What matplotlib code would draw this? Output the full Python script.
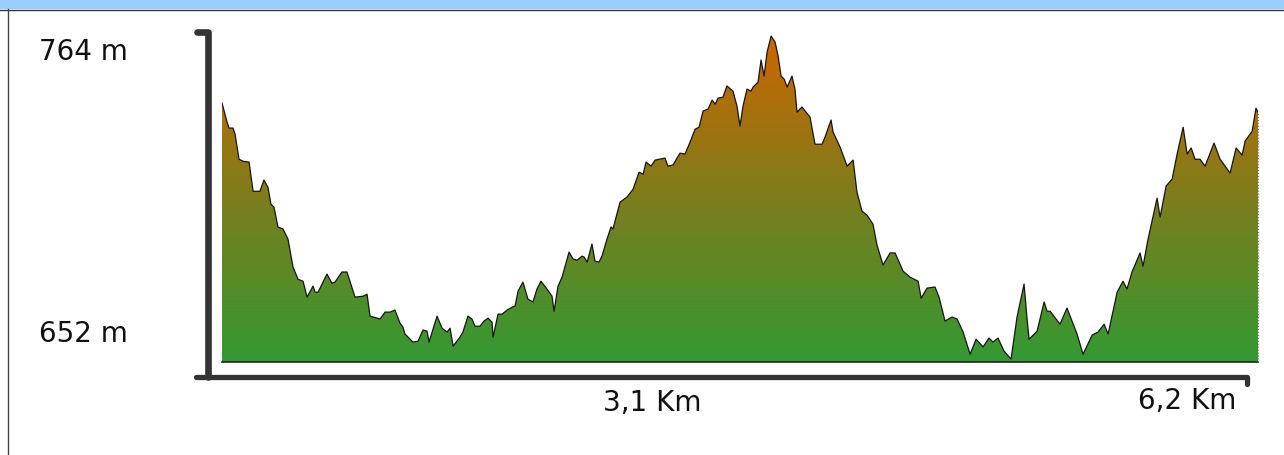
import matplotlib
matplotlib.use('Agg')
import matplotlib.pyplot as plt
import numpy as np
from matplotlib.colors import LinearSegmentedColormap
from matplotlib.lines import Line2D
from matplotlib.patches import Rectangle

# elevation profile, distance in km and altitude in m
dist_km = [0.000, 0.030, 0.042, 0.066, 0.078, 0.102, 0.126, 0.162, 0.186, 0.227,
           0.251, 0.275, 0.293, 0.311, 0.335, 0.365, 0.395, 0.425, 0.455, 0.485,
           0.509, 0.545, 0.557, 0.575, 0.628, 0.658, 0.676, 0.718, 0.748, 0.796,
           0.844, 0.868, 0.886, 0.946, 0.976, 1.005, 1.035, 1.065, 1.083, 1.095,
           1.107, 1.143, 1.173, 1.203, 1.227, 1.239, 1.287, 1.317, 1.347, 1.365,
           1.383, 1.424, 1.442, 1.472, 1.496, 1.514, 1.544, 1.568, 1.592, 1.616,
           1.622, 1.652, 1.676, 1.706, 1.736, 1.754, 1.772, 1.801, 1.831, 1.861,
           1.885, 1.909, 1.945, 1.975, 1.987, 2.011, 2.035, 2.077, 2.101, 2.125,
           2.155, 2.167, 2.185, 2.214, 2.232, 2.256, 2.274, 2.304, 2.328, 2.340,
           2.382, 2.424, 2.460, 2.496, 2.520, 2.538, 2.568, 2.592, 2.651, 2.669,
           2.699, 2.741, 2.771, 2.801, 2.831, 2.855, 2.879, 2.909, 2.933, 2.951,
           2.969, 2.998, 3.022, 3.058, 3.082, 3.100, 3.118, 3.142, 3.166, 3.178,
           3.208, 3.226, 3.244, 3.262, 3.286, 3.310, 3.328, 3.346, 3.364, 3.382,
           3.411, 3.429, 3.441, 3.471, 3.519, 3.549, 3.591, 3.609, 3.645, 3.657,
           3.699, 3.741, 3.777, 3.800, 3.830, 3.860, 3.896, 3.920, 3.956, 3.998,
           4.028, 4.076, 4.118, 4.166, 4.184, 4.219, 4.267, 4.291, 4.327, 4.369,
           4.399, 4.435, 4.477, 4.513, 4.555, 4.590, 4.614, 4.644, 4.680, 4.722,
           4.758, 4.800, 4.818, 4.830, 4.854, 4.878, 4.920, 4.938, 4.956, 5.015,
           5.057, 5.117, 5.153, 5.207, 5.243, 5.279, 5.303, 5.357, 5.392, 5.416,
           5.446, 5.494, 5.512, 5.542, 5.596, 5.614, 5.650, 5.686, 5.716, 5.752,
           5.776, 5.800, 5.823, 5.853, 5.883, 5.937, 5.973, 6.033, 6.069, 6.105,
           6.123, 6.165, 6.188, 6.200]
elev_m = [740.8, 734.2, 732.1, 732.1, 730.0, 721.3, 720.6, 720.3, 710.2, 710.2,
          714.1, 711.6, 705.7, 704.7, 697.8, 697.1, 693.6, 683.9, 679.7, 679.0,
          673.5, 677.3, 675.2, 675.2, 681.5, 678.3, 678.7, 682.2, 682.2, 673.5,
          673.8, 674.5, 666.9, 665.9, 668.3, 668.3, 669.0, 664.5, 663.1, 660.7,
          660.0, 657.9, 658.2, 662.1, 661.7, 657.9, 666.9, 662.7, 661.4, 662.7,
          656.5, 659.6, 661.4, 666.9, 665.9, 663.4, 663.4, 665.2, 666.2, 664.8,
          659.6, 667.6, 667.6, 669.0, 670.0, 670.4, 675.6, 678.7, 672.8, 671.8,
          676.3, 679.0, 676.3, 673.8, 668.6, 677.3, 680.4, 689.1, 686.7, 686.3,
          687.7, 687.4, 685.6, 691.9, 686.0, 685.6, 687.7, 693.6, 697.8, 697.1,
          706.4, 708.2, 710.9, 716.8, 716.1, 720.3, 718.9, 721.0, 721.7, 718.9,
          719.3, 723.4, 723.1, 727.2, 731.7, 732.4, 738.0, 738.7, 741.8, 740.4,
          742.5, 742.8, 746.7, 744.9, 739.7, 732.8, 739.7, 745.6, 744.9, 746.3,
          748.0, 755.7, 750.1, 758.4, 764.0, 761.9, 757.1, 750.1, 749.1, 746.3,
          750.1, 745.6, 737.6, 739.4, 735.9, 726.5, 726.5, 729.0, 734.9, 730.7,
          725.5, 718.9, 721.0, 709.9, 703.3, 701.9, 698.8, 691.5, 684.6, 688.8,
          688.8, 682.5, 680.4, 679.0, 673.1, 676.6, 677.0, 673.5, 665.2, 666.6,
          665.9, 661.4, 653.7, 658.9, 656.2, 659.3, 657.9, 659.3, 654.8, 652.0,
          666.6, 678.0, 665.9, 658.9, 660.3, 661.7, 671.8, 668.6, 668.6, 664.1,
          669.7, 660.7, 653.7, 660.3, 661.4, 664.1, 660.7, 675.2, 679.0, 676.3,
          682.2, 688.8, 684.2, 693.6, 707.8, 701.2, 712.0, 714.4, 723.1, 732.4,
          723.1, 725.2, 721.3, 721.3, 718.9, 726.9, 721.3, 716.5, 725.2, 722.7,
          727.6, 731.0, 739.0, 737.6]
y_labels = ['764 m', '652 m']
x_labels = ['3,1 Km', '6,2 Km']

W, H = 1284, 456
fig = plt.figure(figsize=(W / 100, H / 100), dpi=100)
fig.patch.set_facecolor('white')


def fx(x):
    return x / W


def fy(y):
    return 1 - y / H


y_lo, y_hi = 651.0, 766.1
ax = fig.add_axes([fx(222), fy(363), (1258 - 222) / W, (363 - 31) / H])
ax.set_xlim(0, 6.2)
ax.set_ylim(y_lo, y_hi)
ax.axis('off')

# green -> orange gradient clipped to the profile
cmap = LinearSegmentedColormap.from_list('elev', ['#339933', '#7d7d1c', '#cc6600'])
grad = np.linspace(0, 1, 256).reshape(-1, 1)
im = ax.imshow(grad, cmap=cmap, aspect='auto', origin='lower',
               extent=[0, 6.2, y_lo, 764.0], interpolation='bilinear')
poly = ax.fill_between(dist_km, elev_m, y_lo, color='none', lw=0)
im.set_clip_path(poly.get_paths()[0], transform=ax.transData)

ax.plot(dist_km, elev_m, color='#151515', lw=0.9)
ax.plot([0, 6.2], [y_lo, y_lo], color='#222222', lw=1.2, clip_on=False)
ax.plot([6.2, 6.2], [y_lo, elev_m[-1]], color='#777777', lw=0.8, ls=':', clip_on=False)

# frame of the widget
fig.add_artist(Rectangle((0, fy(10)), 1, 10 / H, transform=fig.transFigure,
                         facecolor='#99ccff', edgecolor='none'))
fig.add_artist(Line2D([0, 1], [fy(10.5), fy(10.5)], color='#333333', lw=1))
fig.add_artist(Line2D([fx(7.5), fx(7.5)], [fy(10), 0], color='#444444', lw=1))

# axis bars
fig.add_artist(Line2D([fx(197), fx(208), fx(208)], [fy(33), fy(33), fy(378)],
                      color='#333333', lw=4.8, solid_joinstyle='round',
                      solid_capstyle='round'))
fig.add_artist(Line2D([fx(196), fx(1247), fx(1247)], [fy(378), fy(378), fy(385)],
                      color='#333333', lw=3.8, solid_joinstyle='round',
                      solid_capstyle='round'))

fig.text(fx(39), fy(52), y_labels[0], ha='left', va='center', fontsize=20, color='#111111')
fig.text(fx(39), fy(334), y_labels[1], ha='left', va='center', fontsize=20, color='#111111')
fig.text(fx(652), fy(403), x_labels[0], ha='center', va='center', fontsize=20, color='#111111')
fig.text(fx(1187), fy(401), x_labels[1], ha='center', va='center', fontsize=20, color='#111111')

fig.savefig('out.png', dpi=100)
